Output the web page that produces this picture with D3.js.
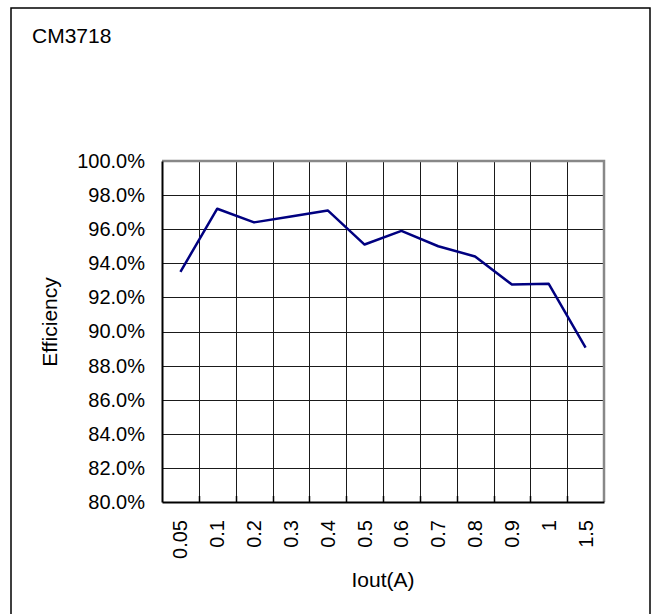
<!DOCTYPE html>
<html><head><meta charset="utf-8">
<script src="https://cdn.jsdelivr.net/npm/d3@7/dist/d3.min.js"></script>
<style>body{margin:0;background:#fff}svg{display:block}text{font-family:"Liberation Sans",Arial,sans-serif;fill:#000}</style>
</head><body><svg id="c" width="656" height="614"></svg>
<script>
const categories = ["0.05","0.1","0.2","0.3","0.4","0.5","0.6","0.7","0.8","0.9","1","1.5"];
const efficiency = [93.5, 97.2, 96.4, 96.75, 97.1, 95.1, 95.9, 95.0, 94.4, 92.75, 92.8, 89.05];
const yTicks = [80,82,84,86,88,90,92,94,96,98,100];
const title = "CM3718";
const xTitle = "Iout(A)";
const yTitle = "Efficiency";

const svg = d3.select("#c");
const L = 162, R = 604, T = 161, B = 502;

svg.append("rect").attr("x",11).attr("y",8).attr("width",639).attr("height",620)
  .attr("fill","#fff").attr("stroke","#000").attr("stroke-width",1.5);

const x = d3.scaleBand().domain(categories).range([L,R]).padding(0);
const y = d3.scaleLinear().domain([80,100]).range([B,T]);

svg.append("rect").attr("x",L).attr("y",T).attr("width",R-L).attr("height",B-T).attr("fill","#fff");

// horizontal gridlines
svg.append("g").selectAll("line").data(yTicks.slice(1,-1)).join("line")
  .attr("x1",L).attr("x2",R).attr("y1",d=>Math.round(y(d))+0.5).attr("y2",d=>Math.round(y(d))+0.5)
  .attr("stroke","#1a1a1a").attr("stroke-width",1);
// vertical gridlines
svg.append("g").selectAll("line").data(categories.slice(1)).join("line")
  .attr("x1",d=>Math.round(x(d))+0.5).attr("x2",d=>Math.round(x(d))+0.5).attr("y1",T).attr("y2",B)
  .attr("stroke","#1a1a1a").attr("stroke-width",1);

// plot border top/right grey
svg.append("path").attr("d",`M${L},${T} H${R} V${B}`).attr("fill","none").attr("stroke","#888").attr("stroke-width",2.5);

// axes
const yAxis = d3.axisLeft(y).tickValues(yTicks).tickSize(0).tickPadding(17).tickFormat(d=>d.toFixed(1)+"%");
const gy = svg.append("g").attr("transform",`translate(${L},0)`).call(yAxis);
gy.select(".domain").attr("stroke","#000").attr("stroke-width",2);
gy.selectAll("text").attr("font-size",20).attr("font-family",'"Liberation Sans",Arial,sans-serif');

const xAxis = d3.axisBottom(x).tickSize(0).tickPadding(0);
const gx = svg.append("g").attr("transform",`translate(0,${B})`).call(xAxis);
gx.select(".domain").attr("stroke","#000").attr("stroke-width",2);
gx.selectAll(".tick text").attr("font-size",20).attr("font-family",'"Liberation Sans",Arial,sans-serif')
  .attr("transform","rotate(-90)").attr("text-anchor","end").attr("x",-18).attr("y",0).attr("dy","0.35em");

// small inside ticks on x axis at category boundaries
svg.append("g").selectAll("line").data(categories.slice(1)).join("line")
  .attr("x1",d=>Math.round(x(d))+0.5).attr("x2",d=>Math.round(x(d))+0.5).attr("y1",B-6).attr("y2",B)
  .attr("stroke","#000").attr("stroke-width",1.5);

// line
const line = d3.line().x((d,i)=>x(categories[i])+x.bandwidth()/2).y(d=>y(d));
svg.append("path").datum(efficiency).attr("d",line).attr("fill","none")
  .attr("stroke","#000080").attr("stroke-width",2.5).attr("stroke-linejoin","round");

svg.append("text").attr("x",32).attr("y",43).attr("font-size",21).text(title);
svg.append("text").attr("x",(L+R)/2).attr("y",587).attr("text-anchor","middle").attr("font-size",21).text(xTitle);
svg.append("text").attr("transform","translate(57,322) rotate(-90)").attr("text-anchor","middle").attr("font-size",21).text(yTitle);
</script></body></html>
